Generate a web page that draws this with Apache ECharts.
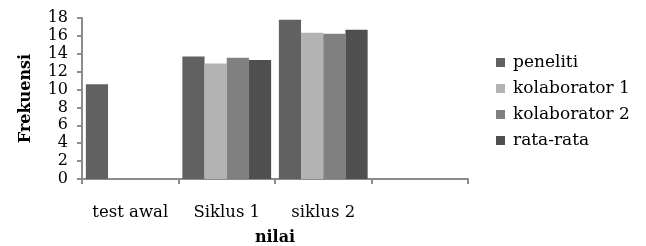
<!DOCTYPE html>
<html><head><meta charset="utf-8">
<script src="https://cdn.jsdelivr.net/npm/echarts@6/dist/echarts.min.js"></script>
<style>html,body{margin:0;padding:0;background:#fff}#c{width:646px;height:246px}</style>
</head><body><div id="c"></div>
<script>
const categories = ['test awal', 'Siklus 1', 'siklus 2', ''];
const seriesNames = ['peneliti', 'kolaborator 1', 'kolaborator 2', 'rata-rata'];
const peneliti = [10.6, 13.7, 17.8, null];
const kolaborator1 = [null, 12.9, 16.35, null];
const kolaborator2 = [null, 13.55, 16.25, null];
const rataRata = [null, 13.3, 16.7, null];
const colors = ['#616161', '#b3b3b3', '#808080', '#4f4f4f'];
const FONT = 'DejaVu Serif';
const chart = echarts.init(document.getElementById('c'));
const data = [peneliti, kolaborator1, kolaborator2, rataRata];
chart.setOption({
  animation: false,
  textStyle: { fontFamily: FONT },
  grid: { left: 82, right: 178, top: 18, bottom: 67, containLabel: false, outerBoundsMode: 'none' },
  legend: {
    orient: 'vertical', left: 496, top: 54, padding: 0, itemWidth: 9, itemHeight: 9, itemGap: 9,
    icon: 'rect',
    textStyle: { fontFamily: FONT, fontSize: 17, color: '#000', padding: [0, 0, 0, 3], lineHeight: 17 },
    data: seriesNames
  },
  xAxis: {
    type: 'category', data: categories,
    name: 'nilai', nameLocation: 'middle', nameGap: 51,
    nameTextStyle: { fontFamily: FONT, fontSize: 16, fontWeight: 'bold', color: '#000' },
    axisLine: { lineStyle: { color: '#8c8c8c', width: 2 } },
    axisTick: { show: true, alignWithLabel: false, length: 5, lineStyle: { color: '#8c8c8c', width: 2 } },
    axisLabel: { fontFamily: FONT, fontSize: 16.5, color: '#000', margin: 25, interval: 0 }
  },
  yAxis: {
    type: 'value', min: 0, max: 18, interval: 2,
    name: 'Frekuensi', nameLocation: 'middle', nameGap: 48, nameRotate: 90,
    nameTextStyle: { fontFamily: FONT, fontSize: 16, fontWeight: 'bold', color: '#000' },
    axisLine: { show: true, lineStyle: { color: '#8c8c8c', width: 2 } },
    axisTick: { show: true, length: 5, lineStyle: { color: '#8c8c8c', width: 2 } },
    splitLine: { show: false },
    axisLabel: { fontFamily: FONT, fontSize: 16, color: '#000', margin: 14 }
  },
  series: seriesNames.map((n, i) => ({
    name: n, type: 'bar', data: data[i], barGap: '0%', barCategoryGap: '8%',
    itemStyle: { color: colors[i] }
  }))
});
</script></body></html>
